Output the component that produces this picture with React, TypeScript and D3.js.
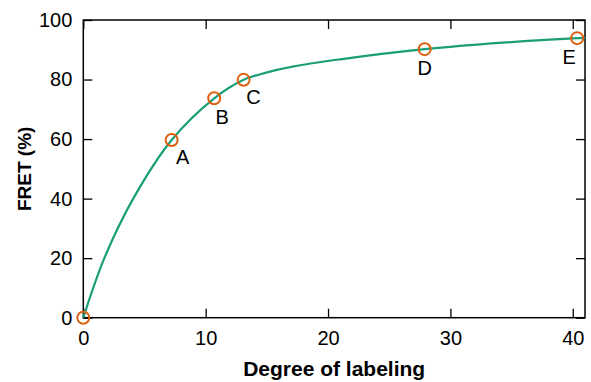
import React, { useRef, useEffect } from 'react';
import * as d3 from 'd3';

// points
const curveX = [0, 1.72, 4.08, 7.22, 10.7, 13.1, 14.4, 17.2, 21, 27.9, 34.3, 40.4, 41];
const curveY = [0, 20, 40, 59.7, 73.7, 79.9, 81.7, 84.4, 86.8, 90.2, 92.4, 93.9, 94.0];

// measured samples
const sampleLabels = ['', 'A', 'B', 'C', 'D', 'E'];
const sampleX = [0, 7.22, 10.7, 13.1, 27.9, 40.36];
const sampleY = [0, 59.7, 73.7, 79.9, 90.2, 93.9];

const xTicks = [0, 10, 20, 30, 40];
const yTicks = [0, 20, 40, 60, 80, 100];

const App = () => {
  const svgRef = useRef<SVGSVGElement>(null);

  useEffect(() => {
    const svg = d3.select(svgRef.current);
    svg.selectAll('*').remove();

    const margin = { top: 20, right: 6, bottom: 64.3, left: 83.3 };
    const W = 591, H = 382;
    const width = W - margin.left - margin.right;
    const height = H - margin.top - margin.bottom;
    const font = 'Liberation Sans, Arial, Helvetica, sans-serif';

    const x = d3.scaleLinear().domain([0, 41]).range([0, width]);
    const y = d3.scaleLinear().domain([0, 100]).range([height, 0]);

    const g = svg.append('g').attr('transform', `translate(${margin.left},${margin.top})`);

    const tickLen = 9;
    const styleAxis = (sel: any, labels: boolean) => {
      sel.select('.domain').remove();
      sel.selectAll('line').attr('stroke', '#000').attr('stroke-width', 1.3);
      if (!labels) sel.selectAll('text').remove();
      else sel.selectAll('text').style('font-family', font).style('font-size', '20px').attr('fill', '#000');
    };

    g.append('g').attr('transform', `translate(0,${height})`)
      .call(d3.axisBottom(x).tickValues(xTicks).tickSize(-tickLen).tickPadding(13))
      .call((s: any) => styleAxis(s, true));
    g.append('g')
      .call(d3.axisTop(x).tickValues(xTicks).tickSize(-tickLen))
      .call((s: any) => styleAxis(s, false));
    g.append('g')
      .call(d3.axisLeft(y).tickValues(yTicks).tickSize(-tickLen).tickPadding(11))
      .call((s: any) => styleAxis(s, true));
    g.append('g').attr('transform', `translate(${width},0)`)
      .call(d3.axisRight(y).tickValues(yTicks).tickSize(-tickLen))
      .call((s: any) => styleAxis(s, false));

    g.append('rect')
      .attr('width', width).attr('height', height)
      .attr('fill', 'none').attr('stroke', '#000').attr('stroke-width', 1.5);

    const line = d3.line<number>()
      .x((d, i) => x(curveX[i]))
      .y(d => y(d))
      .curve(d3.curveCatmullRom.alpha(0.5));

    g.append('path')
      .datum(curveY)
      .attr('d', line)
      .attr('fill', 'none')
      .attr('stroke', '#1a9e77')
      .attr('stroke-width', 2.2);

    const idx = d3.range(sampleX.length);
    g.selectAll('.pt').data(idx).enter().append('circle')
      .attr('cx', i => x(sampleX[i]))
      .attr('cy', i => y(sampleY[i]))
      .attr('r', 6)
      .attr('fill', 'none')
      .attr('stroke', '#dd6010')
      .attr('stroke-width', 2);

    const offs = [[0, 0], [11, 24], [8, 25.5], [10, 24], [0, 26], [-8, 25.5]];
    g.selectAll('.lbl').data(idx.filter(i => sampleLabels[i])).enter().append('text')
      .attr('x', i => x(sampleX[i]) + offs[i][0])
      .attr('y', i => y(sampleY[i]) + offs[i][1])
      .attr('text-anchor', 'middle')
      .style('font-family', font)
      .style('font-size', '20px')
      .attr('fill', '#000')
      .text(i => sampleLabels[i]);

    svg.append('text')
      .attr('x', margin.left + width / 2)
      .attr('y', 376)
      .attr('text-anchor', 'middle')
      .style('font-family', font)
      .style('font-size', '21px')
      .style('font-weight', 'bold')
      .text('Degree of labeling');

    svg.append('text')
      .attr('transform', `translate(31,${margin.top + height / 2}) rotate(-90)`)
      .attr('text-anchor', 'middle')
      .style('font-family', font)
      .style('font-size', '19px')
      .style('font-weight', 'bold')
      .text('FRET (%)');
  }, []);

  return (
    <svg ref={svgRef} width={591} height={382}
      style={{ position: 'absolute', left: 0, top: 0, background: '#fff' }} />
  );
};

export default App;
